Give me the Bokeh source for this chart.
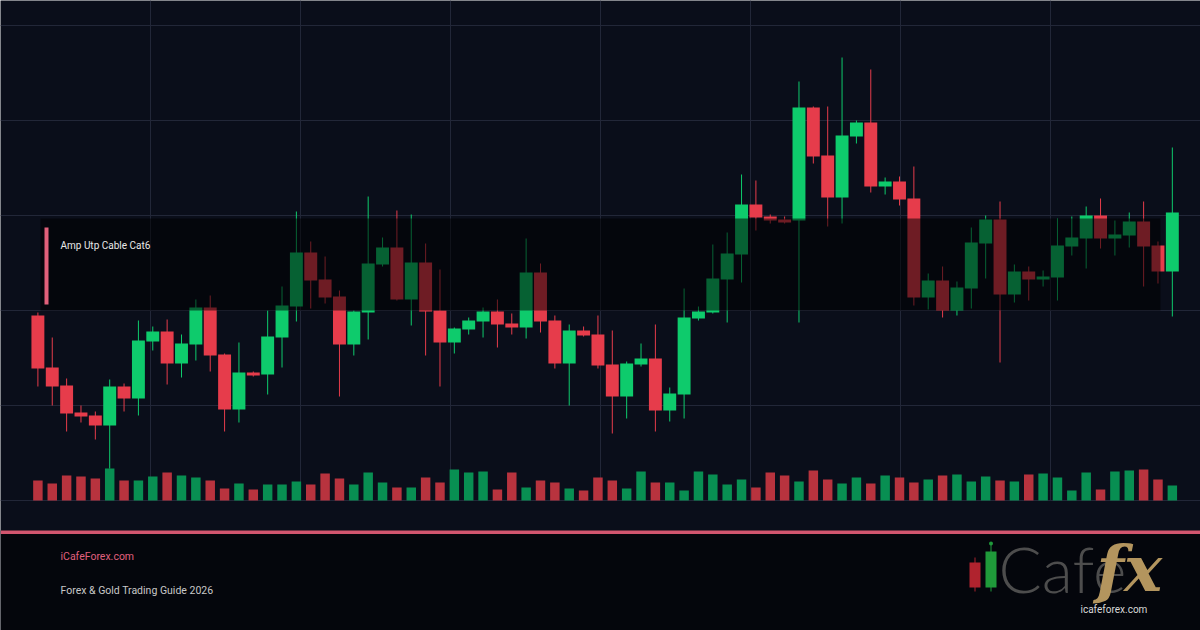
from bokeh.plotting import figure
from bokeh.models import Range1d, ColumnDataSource
from bokeh.core.properties import value
from bokeh.embed import file_html
from bokeh.resources import INLINE

# ---- data (price units, volume units) ----
opens = [285, 233, 215, 188, 185, 175, 214, 202, 259, 269, 237, 256, 293, 246, 191, 228, 226, 263, 294, 348,
         321, 304, 256, 288, 336, 353, 301, 338, 290, 258, 271, 279, 289, 277, 273, 328, 280, 237, 270, 266,
         236, 204, 236, 242, 190, 206, 282, 288, 321, 346, 396, 384, 381, 380, 493, 445, 403, 464, 478, 414,
         419, 402, 303, 320, 290, 312, 357, 381, 306, 329, 321, 323, 354, 362, 385, 362, 365, 379, 355, 329]
highs = [288, 263, 222, 195, 189, 221, 217, 280, 274, 281, 266, 301, 305, 247, 258, 229, 290, 314, 389, 359,
         344, 310, 290, 404, 363, 390, 386, 357, 331, 273, 283, 293, 301, 287, 362, 337, 285, 276, 274, 285,
         270, 239, 257, 276, 213, 312, 294, 356, 368, 426, 420, 386, 384, 519, 494, 494, 543, 480, 531, 423,
         424, 434, 327, 334, 319, 373, 385, 399, 336, 334, 330, 382, 384, 394, 402, 380, 388, 399, 359, 453]
lows = [214, 195, 169, 178, 161, 132, 189, 185, 250, 216, 223, 240, 229, 169, 178, 224, 206, 233, 279, 292,
        297, 204, 245, 261, 334, 300, 275, 245, 214, 247, 266, 263, 253, 266, 262, 268, 232, 195, 264, 232,
        167, 182, 234, 169, 179, 182, 280, 287, 278, 318, 370, 377, 377, 278, 437, 374, 377, 457, 408, 406,
        395, 295, 291, 283, 285, 292, 322, 238, 298, 300, 314, 300, 345, 332, 352, 345, 353, 314, 317, 284]
closes = [232, 214, 187, 184, 175, 214, 202, 260, 269, 237, 257, 293, 245, 191, 228, 225, 264, 295, 348, 320,
          303, 256, 289, 337, 353, 301, 338, 289, 258, 272, 280, 289, 276, 273, 328, 279, 237, 270, 265, 235,
          204, 237, 242, 190, 207, 283, 289, 322, 347, 396, 383, 380, 378, 493, 444, 403, 465, 478, 414, 419,
          401, 303, 320, 290, 313, 358, 381, 306, 329, 321, 324, 355, 363, 385, 362, 366, 379, 354, 329, 388]
volumes = [20, 17, 25, 24, 22, 32, 20, 20, 24, 28, 25, 23, 20, 12, 17, 11, 16, 16, 19, 16,
           27, 22, 16, 28, 18, 13, 13, 23, 18, 31, 28, 29, 11, 28, 13, 20, 18, 12, 10, 23,
           20, 12, 29, 18, 18, 10, 29, 26, 16, 21, 13, 28, 25, 19, 30, 21, 17, 23, 17, 25,
           23, 18, 21, 25, 26, 19, 24, 20, 19, 26, 27, 23, 10, 28, 11, 29, 30, 31, 21, 15]
grid_prices = [100, 195, 290, 385, 480, 575]

title_text = "Amp Utp Cable Cat6"
site_text = "iCafeForex.com"
guide_text = "Forex & Gold Trading Guide 2026"

# ---- colours ----
BG = "#0a0e1a"
UP, DOWN = "#0ecb6c", "#e63c4b"
VUP, VDOWN = "#088f52", "#b8333e"
GRID = "#222738"
PINK = "#d2566f"

# pixel -> data helpers (layout only)
X0, DX = 37.4, 14.36
def X(px):
    return (px - X0) / DX
def Y(py):
    return 600 - py

W, H = 1200, 630
p = figure(width=W, height=H, x_range=Range1d(X(0), X(W)), y_range=Range1d(Y(H), Y(0)),
           output_backend="svg", toolbar_location=None, min_border=0,
           x_axis_location=None, y_axis_location=None)
p.background_fill_color = BG
p.border_fill_color = BG
p.outline_line_color = None
p.grid.visible = False
p.xgrid.visible = False
p.ygrid.visible = False
p.extra_y_ranges = {"vol": Range1d(-130, 500)}

# grid
p.segment(x0=[X(0)] * len(grid_prices), x1=[X(W)] * len(grid_prices), y0=grid_prices, y1=grid_prices,
          line_color=GRID, line_width=1)
vx = [X(150 * k) for k in range(1, 8)]
p.segment(x0=vx, x1=vx, y0=[grid_prices[0]] * len(vx), y1=[Y(0)] * len(vx), line_color=GRID, line_width=1)

n = len(opens)
idx = list(range(n))
up = [c >= o for o, c in zip(opens, closes)]
src = ColumnDataSource(dict(
    x=idx, high=highs, low=lows,
    top=[max(o, c) for o, c in zip(opens, closes)],
    bottom=[min(o, c) for o, c in zip(opens, closes)],
    color=[UP if u else DOWN for u in up],
    vcolor=[VUP if u else VDOWN for u in up],
    vol=volumes,
))

p.vbar(x="x", top="vol", bottom=0, width=0.66, fill_color="vcolor", line_color=None, source=src, y_range_name="vol")
p.segment(x0="x", x1="x", y0="low", y1="high", line_color="color", line_width=1, source=src)
p.vbar(x="x", top="top", bottom="bottom", width=0.9, fill_color="color", line_color=None, source=src)

# translucent info panel
p.quad(left=[X(40)], right=[X(1160)], top=[Y(218)], bottom=[Y(310)], fill_color="#000000", fill_alpha=0.52, line_color=None)
p.quad(left=[X(44)], right=[X(48)], top=[Y(227)], bottom=[Y(304)], fill_color="#e0607a", line_color=None)
p.text(x=[X(60)], y=[Y(245)], text=[title_text], text_font=value("Roboto"), text_font_size="10px",
       text_color="#e8e8e8", text_baseline="middle", text_align="left")

# footer
p.quad(left=[X(0)], right=[X(W)], top=[Y(530)], bottom=[Y(H)], fill_color="#04060c", line_color=None)
p.quad(left=[X(0)], right=[X(W)], top=[Y(530)], bottom=[Y(533.5)], fill_color=PINK, line_color=None)
p.text(x=[X(60)], y=[Y(556)], text=[site_text], text_font=value("Roboto"), text_font_size="10.5px",
       text_color="#e0607e", text_baseline="middle", text_align="left")
p.text(x=[X(60)], y=[Y(590)], text=[guide_text], text_font=value("Roboto"), text_font_size="10.5px",
       text_color="#c8c8c8", text_baseline="middle", text_align="left")

# logo
p.segment(x0=[X(974.5), X(990.5)], x1=[X(974.5), X(990.5)], y0=[Y(591), Y(591)], y1=[Y(557), Y(543)],
          line_color=["#a8232d", "#1e9a3c"], line_width=1)
p.quad(left=[X(969), X(985)], right=[X(980), X(996)], top=[Y(562), Y(551)], bottom=[Y(587), Y(587)],
       fill_color=["#b0232e", "#1f9a3a"], line_color=None)
p.scatter(x=[X(990.5)], y=[Y(543)], size=4, fill_color="#1f9a3a", line_color=None)
p.text(x=[X(998)], y=[Y(568)], text=["Cafe"], text_font=value("Lato Light, Lato"), text_font_size="64px",
       text_color="#4d4d4d", text_baseline="alphabetic", text_align="left")
p.text(x=[X(1096)], y=[Y(568)], text=["fx"], text_font=value("DejaVu Serif"), text_font_style="bold italic",
       text_font_size="64px", text_color="#b3955e", text_baseline="alphabetic", text_align="left")
p.text(x=[X(1080)], y=[Y(609)], text=["icafeforex.com"], text_font=value("Roboto"), text_font_size="10px",
       text_color="#d8d8d8", text_baseline="middle", text_align="left")

open("out.html", "w").write(file_html(p, INLINE))
